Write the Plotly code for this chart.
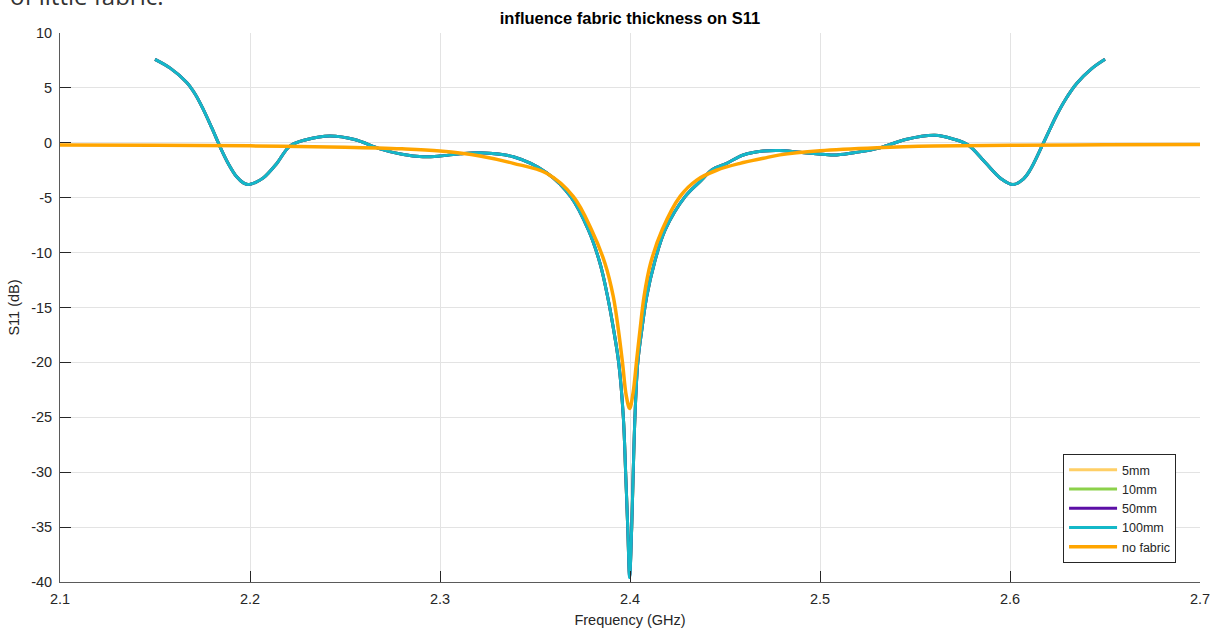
import plotly.graph_objects as go

# Frequency sweep (GHz) and S11 (dB) for the antenna covered by fabric of
# different thicknesses; the four thickness curves lie almost on top of each other.
freq_fabric = [
    2.150, 2.158, 2.1667, 2.1711, 2.1754, 2.1798, 2.1842, 2.1886, 2.193, 2.1965,
    2.1989, 2.203, 2.207, 2.214, 2.221, 2.230, 2.242, 2.255, 2.2684, 2.280,
    2.291, 2.300, 2.3105, 2.3211, 2.3386, 2.3561, 2.3688, 2.3781, 2.3842, 2.3882,
    2.3914, 2.3941, 2.3965, 2.3977, 2.3988, 2.3998, 2.4009, 2.4017, 2.4026, 2.4041,
    2.4062, 2.4088, 2.4128, 2.4185, 2.4290, 2.4377, 2.4430, 2.4509, 2.4596, 2.4702,
    2.4789, 2.4895, 2.5088, 2.520, 2.5316, 2.545, 2.5605, 2.570, 2.578, 2.587,
    2.5955, 2.6016, 2.607, 2.6105, 2.6175, 2.6246, 2.6292, 2.6351, 2.643, 2.650,
]

s11_5mm = [
    7.6, 6.8, 5.5, 4.45, 3.05, 1.4, -0.35, -1.9, -3.1, -3.65,
    -3.8, -3.6, -3.2, -1.9, -0.3, 0.3, 0.62, 0.3, -0.55, -1.05,
    -1.27, -1.2, -1.0, -0.9, -1.27, -2.72, -4.9, -7.94, -10.97, -14.0,
    -17.05, -20.1, -25.0, -30.0, -35.0, -39.2, -35.0, -30.0, -25.0, -20.0,
    -17.05, -14.0, -10.97, -7.94, -4.9, -3.39, -2.48, -1.87, -1.11, -0.75,
    -0.7, -0.85, -1.1, -0.85, -0.45, 0.3, 0.68, 0.35, -0.2, -1.8,
    -3.3, -3.8, -3.3, -2.5, -0.05, 2.53, 3.95, 5.4, 6.75, 7.6,
]

s11_10mm = [
    7.6, 6.8, 5.5, 4.45, 3.05, 1.4, -0.35, -1.9, -3.1, -3.65,
    -3.8, -3.6, -3.2, -1.9, -0.3, 0.3, 0.62, 0.3, -0.55, -1.05,
    -1.27, -1.2, -1.0, -0.9, -1.27, -2.72, -4.9, -7.94, -10.97, -14.0,
    -17.05, -20.1, -25.0, -30.0, -35.0, -39.4, -35.0, -30.0, -25.0, -20.0,
    -17.05, -14.0, -10.97, -7.94, -4.9, -3.39, -2.48, -1.87, -1.11, -0.75,
    -0.7, -0.85, -1.1, -0.85, -0.45, 0.3, 0.68, 0.35, -0.2, -1.8,
    -3.3, -3.8, -3.3, -2.5, -0.05, 2.53, 3.95, 5.4, 6.75, 7.6,
]

s11_50mm = [
    7.6, 6.8, 5.5, 4.45, 3.05, 1.4, -0.35, -1.9, -3.1, -3.65,
    -3.8, -3.6, -3.2, -1.9, -0.3, 0.3, 0.62, 0.3, -0.55, -1.05,
    -1.27, -1.2, -1.0, -0.9, -1.27, -2.72, -4.9, -7.94, -10.97, -14.0,
    -17.05, -20.1, -25.0, -30.0, -35.0, -39.5, -35.0, -30.0, -25.0, -20.0,
    -17.05, -14.0, -10.97, -7.94, -4.9, -3.39, -2.48, -1.87, -1.11, -0.75,
    -0.7, -0.85, -1.1, -0.85, -0.45, 0.3, 0.68, 0.35, -0.2, -1.8,
    -3.3, -3.8, -3.3, -2.5, -0.05, 2.53, 3.95, 5.4, 6.75, 7.6,
]

s11_100mm = [
    7.6, 6.8, 5.5, 4.45, 3.05, 1.4, -0.35, -1.9, -3.1, -3.65,
    -3.8, -3.6, -3.2, -1.9, -0.3, 0.3, 0.62, 0.3, -0.55, -1.05,
    -1.27, -1.2, -1.0, -0.9, -1.27, -2.72, -4.9, -7.94, -10.97, -14.0,
    -17.05, -20.1, -25.0, -30.0, -35.0, -39.6, -35.0, -30.0, -25.0, -20.0,
    -17.05, -14.0, -10.97, -7.94, -4.9, -3.39, -2.48, -1.87, -1.11, -0.75,
    -0.7, -0.85, -1.1, -0.85, -0.45, 0.3, 0.68, 0.35, -0.2, -1.8,
    -3.3, -3.8, -3.3, -2.5, -0.05, 2.53, 3.95, 5.4, 6.75, 7.6,
]

# Bare antenna, measured over the full band
freq_nofabric = [
    2.100, 2.150, 2.200, 2.250, 2.280, 2.300, 2.321, 2.3386, 2.3561, 2.3702,
    2.3798, 2.3868, 2.3912, 2.3939, 2.3961, 2.3980, 2.3998, 2.4016, 2.4035, 2.4053,
    2.4074, 2.4108, 2.4170, 2.4263, 2.4351, 2.4456, 2.4579, 2.4702, 2.4789, 2.500,
    2.530, 2.560, 2.600, 2.650, 2.700,
]
s11_nofabric = [
    -0.2, -0.22, -0.28, -0.4, -0.55, -0.75, -1.2, -1.87, -2.78, -4.9,
    -7.94, -10.97, -14.0, -17.05, -20.1, -23.0, -24.2, -22.8, -19.8, -17.0,
    -14.0, -11.0, -7.9, -4.9, -3.4, -2.5, -1.87, -1.41, -1.1, -0.72,
    -0.45, -0.3, -0.22, -0.18, -0.15,
]

x_ticks = [2.1, 2.2, 2.3, 2.4, 2.5, 2.6, 2.7]
y_ticks = [10, 5, 0, -5, -10, -15, -20, -25, -30, -35, -40]

series = [
    ("5mm", s11_5mm, "#FFCF66", 3),
    ("10mm", s11_10mm, "#8CD14B", 3),
    ("50mm", s11_50mm, "#5C0FA6", 3),
    ("100mm", s11_100mm, "#14B8C8", 3),
]

FONT = "Liberation Sans, Arial, sans-serif"

fig = go.Figure()
for name, vals, color, w in series:
    fig.add_trace(go.Scatter(
        x=freq_fabric, y=vals, mode="lines", name=name,
        line=dict(color=color, width=w, shape="spline", smoothing=1.0),
    ))
fig.add_trace(go.Scatter(
    x=freq_nofabric, y=s11_nofabric, mode="lines", name="no fabric",
    line=dict(color="#FFA500", width=3.5, shape="spline", smoothing=1.0),
))

axis_font = dict(family=FONT, size=14.5, color="#262626")

fig.update_layout(
    width=1212, height=629,
    margin=dict(l=60, r=12, t=33, b=47, autoexpand=False),
    paper_bgcolor="white", plot_bgcolor="white",
    title=dict(
        text="<b>influence fabric thickness on S11</b>",
        x=0.5, xref="paper", xanchor="center",
        y=1 - 18 / 629, yref="container", yanchor="middle",
        font=dict(family=FONT, size=16.5, color="black"),
    ),
    showlegend=True,
    legend=dict(
        x=0.979, y=0.0346, xanchor="right", yanchor="bottom",
        bgcolor="white", bordercolor="#262626", borderwidth=1,
        font=dict(family=FONT, size=12.5, color="#262626"),
        tracegroupgap=0, itemwidth=48,
    ),
    annotations=[dict(
        text="of little fabric.", xref="paper", yref="paper",
        x=-0.046, y=(582 - 14) / 549, xanchor="left", yanchor="bottom",
        showarrow=False,
        font=dict(family="Open Sans, Noto Sans, sans-serif", size=24, color="#333333"),
    )],
)

fig.update_xaxes(
    range=[2.1, 2.7], tickvals=x_ticks, ticktext=[str(v) for v in x_ticks],
    showgrid=True, gridcolor="#E3E3E3", gridwidth=1,
    showline=True, linecolor="#5a5a5a", linewidth=1,
    ticks="inside", ticklen=11, tickcolor="#262626", tickwidth=1,
    tickfont=axis_font, zeroline=False, automargin=False, ticklabelstandoff=4,
    title=dict(text="Frequency (GHz)", font=dict(family=FONT, size=14.5, color="#262626"), standoff=8),
)
fig.update_yaxes(
    range=[-40, 10], tickvals=y_ticks, ticktext=[str(v) for v in y_ticks],
    showgrid=True, gridcolor="#E3E3E3", gridwidth=1,
    showline=True, linecolor="#5a5a5a", linewidth=1,
    ticks="inside", ticklen=11, tickcolor="#262626", tickwidth=1,
    tickfont=axis_font, zeroline=False, automargin=False, ticklabelstandoff=4,
    title=dict(text="S11 (dB)", font=dict(family=FONT, size=14.5, color="#262626"), standoff=8),
)

fig.write_html("out.html")
